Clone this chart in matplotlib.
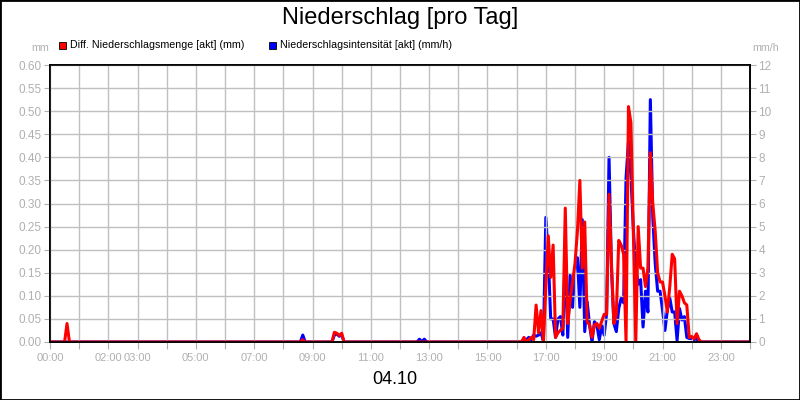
import matplotlib
matplotlib.use("Agg")
import matplotlib.pyplot as plt
from matplotlib.patches import Rectangle
import pandas as pd

plt.rcParams['font.family'] = ['Liberation Sans', 'DejaVu Sans']

# ---- data -------------------------------------------------------------
# isolated small events (time, value)
red_event_times = ["00:30", "00:35", "00:40", "08:35", "08:40", "08:45",
                   "09:40", "09:45", "09:50", "09:55", "10:00", "10:05"]
red_event_vals = [0, 0.04, 0, 0, 0.005, 0,
                  0, 0.021, 0.019, 0.014, 0.019, 0]

blue_event_times = ["08:35", "08:40", "08:45",
                    "09:40", "09:45", "09:50", "09:55", "10:00", "10:05",
                    "12:35", "12:40", "12:45", "12:50", "12:55"]
blue_event_vals = [0, 0.3, 0,
                   0, 0.3, 0.35, 0.25, 0.3, 0,
                   0, 0.12, 0.02, 0.12, 0]

# main rain period, 5-minute values from 16:00
active_start = "16:00"
red_active = [0, 0, 0, 0.01, 0, 0.005, 0.01, 0.005, 0.08, 0.02, 0.068, 0,    # 16h
              0.12, 0.23, 0.14, 0.21, 0.01, 0.02, 0.025, 0.03, 0.29, 0.04, 0.09, 0.13,  # 17h
              0.17, 0.24, 0.35, 0.16, 0.26, 0.044, 0.037, 0.01, 0.037, 0.04, 0.03, 0.045,  # 18h
              0.06, 0.06, 0.32, 0.17, 0.04, 0.06, 0.22, 0.21, 0.19, 0, 0.51, 0.475,  # 19h
              0.24, 0, 0.25, 0.16, 0.16, 0.12, 0.16, 0.41, 0.30, 0.24, 0.15, 0.13,  # 20h
              0.13, 0.10, 0.065, 0.12, 0.19, 0.18, 0.04, 0.11, 0.10, 0.085, 0.08, 0.01,  # 21h
              0.012, 0.007, 0.018, 0.005, 0, 0]  # 22h
blue_active = [0, 0, 0, 0, 0.1, 0.2, 0.1, 0.3, 0.25, 0.3, 0.4, 0.05,
               5.4, 3.7, 1.0, 1.0, 0.2, 1.0, 1.1, 0.3, 3.9, 0.2, 2.9, 1.5,
               3.25, 3.65, 1.5, 5.3, 0.45, 1.75, 0.73, 0, 0.88, 0.73, 0.1, 0.7,
               0.3, 1.24, 8.0, 3.2, 0.8, 0.45, 1.45, 1.9, 1.7, 7.1, 8.7, 7.2,
               4.9, 3.2, 2.5, 2.7, 0.65, 2.2, 1.3, 10.5, 5.4, 3.4, 2.2, 2.2,
               1.4, 0.5, 1.4, 1.9, 1.3, 1.3, 0.07, 1.45, 0.95, 1.1, 0.2, 0.15,
               0.15, 0.1, 0.15, 0, 0, 0]

hour_ticks = [0, 2, 3, 5, 7, 9, 11, 13, 15, 17, 19, 21, 23]
hour_labels = ["00:00", "02:00", "03:00", "05:00", "07:00", "09:00", "11:00",
               "13:00", "15:00", "17:00", "19:00", "21:00", "23:00"]
left_ticks = [0, 0.05, 0.10, 0.15, 0.20, 0.25, 0.30, 0.35, 0.40, 0.45, 0.50, 0.55, 0.60]
right_ticks = list(range(0, 13))


def to_hours(t):
    h, m = t.split(":")
    return int(h) + int(m) / 60


def build(ev_times, ev_vals, active):
    start = pd.Timestamp("2000-01-01 " + active_start)
    act_times = pd.date_range(start, periods=len(active), freq="5min")
    t = [0.0] + [to_hours(x) for x in ev_times] + \
        [ts.hour + ts.minute / 60 for ts in act_times] + [24.0]
    v = [0.0] + list(ev_vals) + list(active) + [0.0]
    s = pd.Series(v, index=t).sort_index()
    s = s[~s.index.duplicated()]
    return s.index.values, s.values


red_t, red_v = build(red_event_times, red_event_vals, red_active)
blue_t, blue_v = build(blue_event_times, blue_event_vals, blue_active)

# ---- figure -----------------------------------------------------------
grey = "#b0b0b0"
fig = plt.figure(figsize=(8, 4), dpi=100)
ax = fig.add_axes([50 / 800, 58 / 400, 700 / 800, 277 / 400])
ax2 = ax.twinx()
ax.set_zorder(ax2.get_zorder() + 1)
ax.patch.set_visible(False)

ax2.plot(blue_t, blue_v, color="#0000ff", lw=2.2)
ax.plot(red_t, red_v, color="#ff0000", lw=2.2)

ax.set_xlim(0, 24)
ax.set_ylim(0, 0.6)
ax2.set_ylim(0, 12)

# gridline/tick at every hour, label only at some
all_hours = list(range(0, 25))
xlabels = {h: lab for h, lab in zip(hour_ticks, hour_labels)}
ax.set_xticks(all_hours)
ax.set_xticklabels([xlabels.get(h, "") for h in all_hours])
ax.tick_params(axis="x", length=5, color=grey, direction="out",
               labelsize=8, labelcolor=grey, pad=3)
ax.set_yticks(left_ticks)
ax.set_yticklabels([f"{v:.2f}" for v in left_ticks])
ax.tick_params(axis="y", length=4, color=grey, labelsize=8.5, labelcolor=grey, pad=2)
ax2.set_yticks(right_ticks)
ax2.set_yticklabels([str(v) for v in right_ticks])
ax2.tick_params(axis="y", length=4, color=grey, labelsize=8.5, labelcolor=grey, pad=2)

ax.grid(True, which="major", color="#c0c0c0", lw=1)
ax.set_axisbelow(True)
for a in (ax, ax2):
    for sp in a.spines.values():
        sp.set_color("black")
        sp.set_linewidth(1.2)

fig.text(0.5, 1 - 18 / 400, "Niederschlag [pro Tag]", ha="center", va="center", fontsize=17)
fig.text(395 / 800, 1 - 380 / 400, "04.10", ha="center", va="center", fontsize=13)
fig.text(40 / 800, 1 - 48 / 400, "mm", ha="center", va="center", fontsize=7.7, color=grey)
fig.text(766 / 800, 1 - 48 / 400, "mm/h", ha="center", va="center", fontsize=7.7, color=grey)

# legend
for x0, col, label in [(59, "#ff0000", "Diff. Niederschlagsmenge [akt] (mm)"),
                       (269, "#0000ff", "Niederschlagsintensität [akt] (mm/h)")]:
    fig.patches.append(Rectangle((x0 / 800, 1 - 49 / 400), 7 / 800, 7 / 400,
                                 transform=fig.transFigure, facecolor=col,
                                 edgecolor="black", lw=0.6))
    fig.text((x0 + 11) / 800, 1 - 45 / 400, label, ha="left", va="center", fontsize=7.7)

fig.patches.append(Rectangle((0, 0), 1, 1, transform=fig.transFigure,
                             fill=False, edgecolor="black", lw=2))

fig.savefig("out.png", dpi=100)
